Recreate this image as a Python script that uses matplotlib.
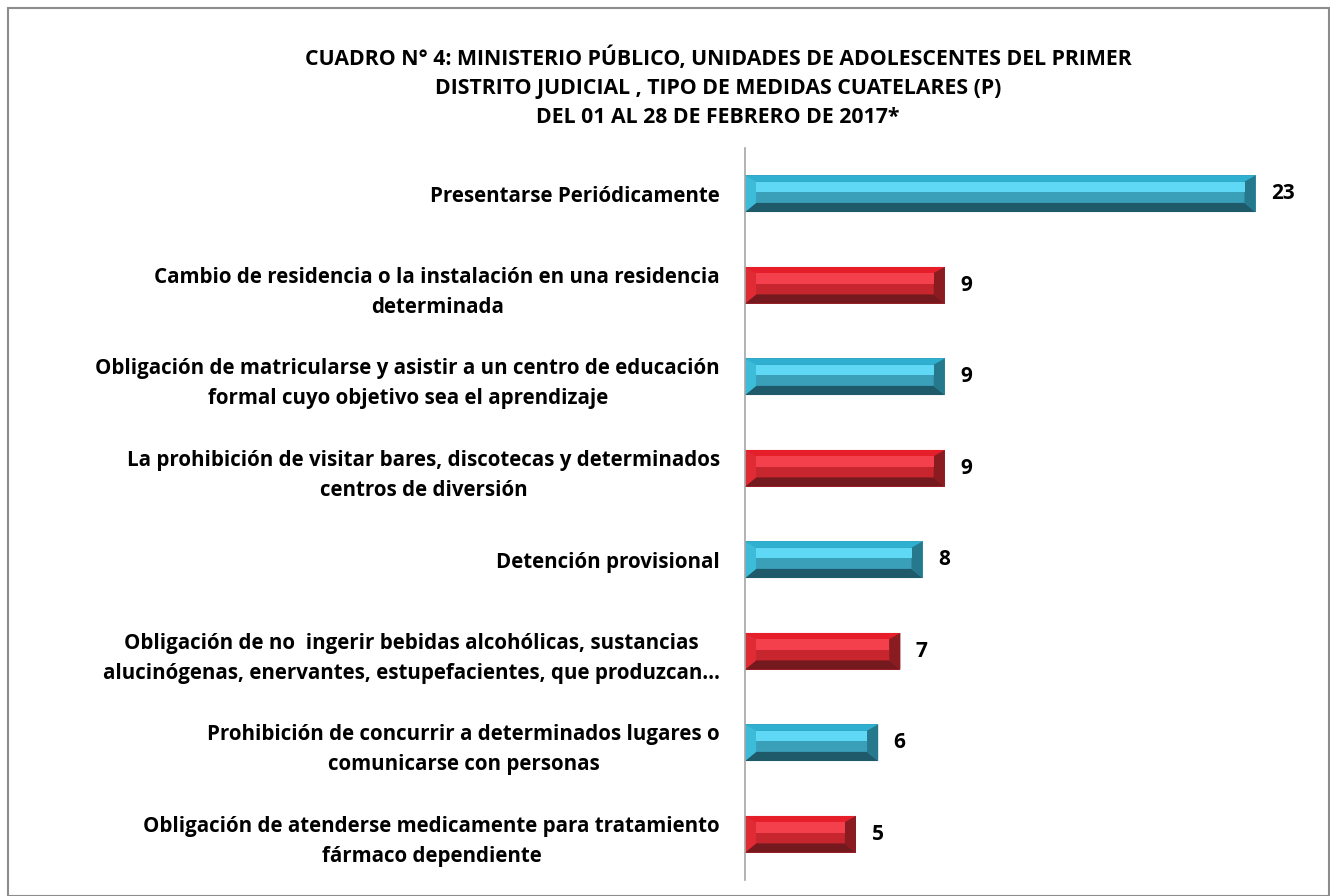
import matplotlib
matplotlib.use("Agg")
import matplotlib.pyplot as plt
from matplotlib.patches import Polygon, Rectangle

plt.rcParams['font.family'] = ['Open Sans', 'DejaVu Sans']

# data
categories = [
    "Presentarse Periódicamente",
    "Cambio de residencia o la instalación en una residencia\ndeterminada",
    "Obligación de matricularse y asistir a un centro de educación\nformal cuyo objetivo sea el aprendizaje",
    "La prohibición de visitar bares, discotecas y determinados\ncentros de diversión",
    "Detención provisional",
    "Obligación de no  ingerir bebidas alcohólicas, sustancias\nalucinógenas, enervantes, estupefacientes, que produzcan…",
    "Prohibición de concurrir a determinados lugares o\ncomunicarse con personas",
    "Obligación de atenderse medicamente para tratamiento\nfármaco dependiente",
]
values = [23, 9, 9, 9, 8, 7, 6, 5]
title = ("CUADRO N° 4: MINISTERIO PÚBLICO, UNIDADES DE ADOLESCENTES DEL PRIMER\n"
         "DISTRITO JUDICIAL , TIPO DE MEDIDAS CUATELARES (P)\n"
         "DEL 01 AL 28 DE FEBRERO DE 2017*")

# bevel palettes
blue = dict(top="#2fb0d0", hi="#5fd8f5", face="#3a9fb8", bot="#1f5a6a",
            left="#3cbcd8", right="#26788c")
red = dict(top="#e61e2a", hi="#f3404c", face="#c8262f", bot="#741a1f",
           left="#e02a34", right="#8a1b21")
palettes = [blue, red]

fig = plt.figure(figsize=(13.3, 8.96), dpi=100)
fig.patches.append(Rectangle((8 / 1330, 0), 1 - 8 / 1330 - 0.0005, 1 - 8 / 896,
                             transform=fig.transFigure, fill=False,
                             edgecolor="#8c8c8c", linewidth=1.5))

ax = fig.add_axes([745 / 1330, 16 / 896, 555 / 1330, 732 / 896])
ax.set_xlim(0, 25)
ax.set_ylim(len(values) - 0.5, -0.5)

h = 0.4
bx = 0.5    # bevel width in data units
bt = h * 0.17   # top bevel
bb = h * 0.25   # bottom bevel
for i, v in enumerate(values):
    p = palettes[i % 2]
    top = i - h / 2
    bot = i + h / 2
    ax.add_patch(Rectangle((0, top), v, h, facecolor=p["face"], edgecolor="none"))
    ax.add_patch(Polygon([(0, top), (v, top), (v - bx, top + bt), (bx, top + bt)],
                         facecolor=p["top"], edgecolor="none"))
    ax.add_patch(Polygon([(0, bot), (v, bot), (v - bx, bot - bb), (bx, bot - bb)],
                         facecolor=p["bot"], edgecolor="none"))
    ax.add_patch(Polygon([(0, top), (bx, top + bt), (bx, bot - bb), (0, bot)],
                         facecolor=p["left"], edgecolor="none"))
    ax.add_patch(Polygon([(v, top), (v - bx, top + bt), (v - bx, bot - bb), (v, bot)],
                         facecolor=p["right"], edgecolor="none"))
    ax.add_patch(Rectangle((bx, top + bt), v - 2 * bx, (h - bt - bb) * 0.5,
                           facecolor=p["hi"], edgecolor="none"))
    ax.text(v + 0.7, i, str(v), va="center", ha="left", fontsize=15,
            fontweight="bold", color="black")

ax.set_yticks(range(len(categories)))
ax.set_yticklabels(categories, fontsize=14.8, fontweight="bold",
                   multialignment="center", linespacing=1.55)
ax.tick_params(axis="y", length=0, pad=18)
ax.set_xticks([])
for s in ["top", "right", "bottom"]:
    ax.spines[s].set_visible(False)
ax.spines["left"].set_color("#a6a6a6")
ax.spines["left"].set_linewidth(1.2)

fig.text(718 / 1330, 1 - 87 / 896, title, ha="center", va="center",
         fontsize=15.3, fontweight="bold", linespacing=1.5)

fig.savefig("out.png", dpi=100)
